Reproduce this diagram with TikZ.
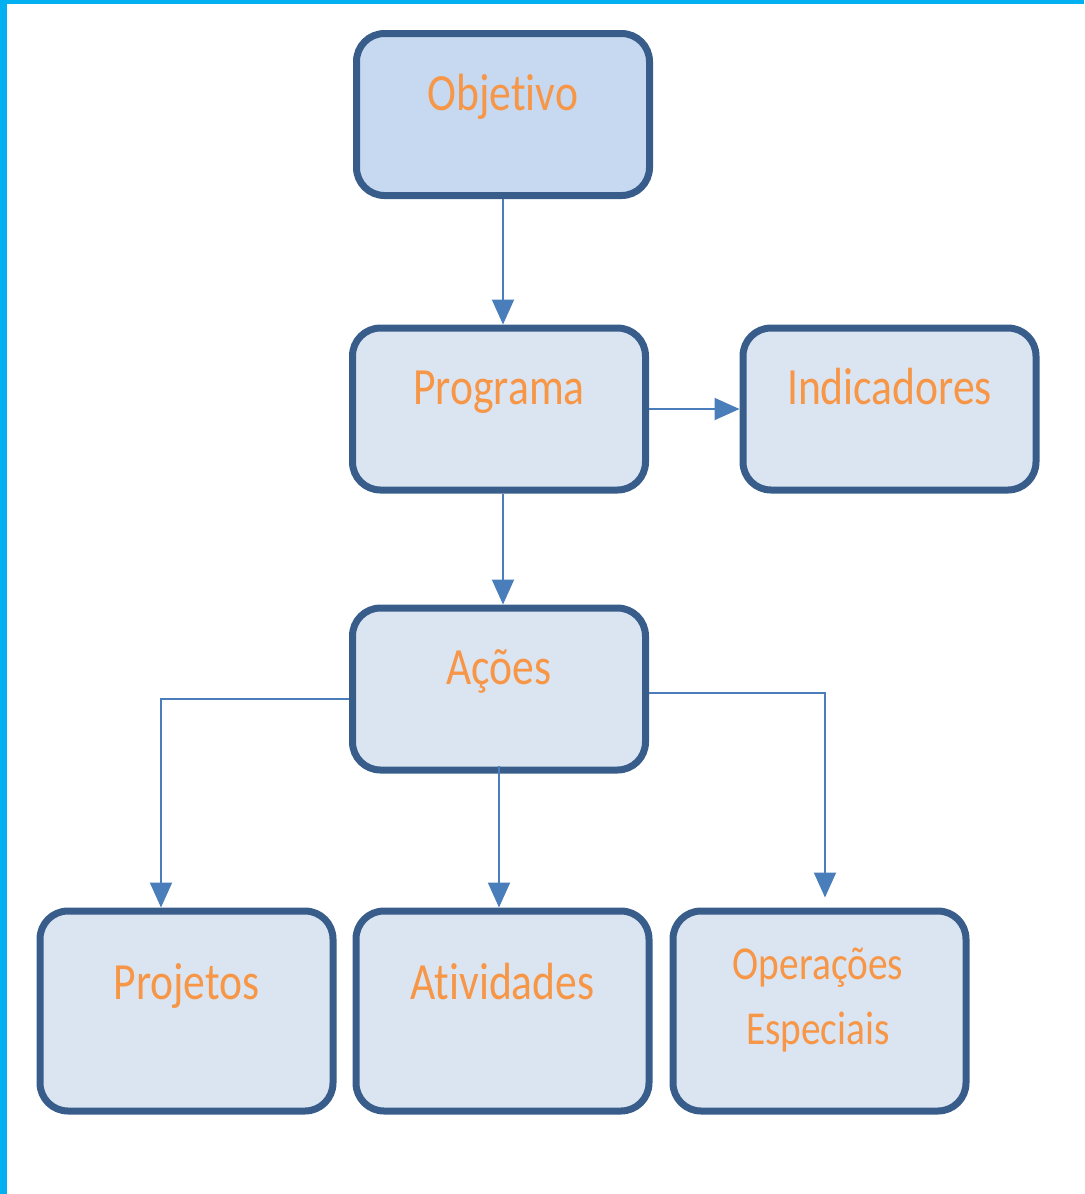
\documentclass[tikz,border=0pt]{standalone}
\usepackage{fontspec}
\setmainfont[Ligatures=NoCommon]{Carlito}
\usepackage{tikz}
\usetikzlibrary{arrows, arrows.meta}
\usepackage{xcolor}
\definecolor{borda}{HTML}{385D8A}
\definecolor{azulclaro}{HTML}{DBE5F1}
\definecolor{azulmedio}{HTML}{C6D9F1}
\definecolor{seta}{HTML}{4A7EBB}
\definecolor{laranja}{HTML}{F79646}
\definecolor{moldura}{HTML}{00B0F0}
\newcommand{\alto}[1]{\scalebox{1}[1.2]{#1}}

\begin{document}
\begin{tikzpicture}[
caixa/.style={draw=borda, line width=0.07cm, fill=azulclaro, rounded corners=0.28cm,
  minimum width=2.93cm, minimum height=1.62cm},
caixabaixa/.style={caixa, minimum height=2.0cm},
rotulo/.style={anchor=base, text=laranja, align=center,
  font=\fontsize{12.4}{18.4}\selectfont},
ligacao/.style={seta, line width=0.02cm, -{Triangle[length=0.25cm,width=0.22cm]}}
]
\useasboundingbox (0,0) rectangle (10.84,-11.94);
\fill[moldura] (0,0) rectangle (0.07,-11.94);
\fill[moldura] (0,0) rectangle (10.84,-0.04);

\node[caixa, fill=azulmedio] (objetivo) at (5.03,-1.145) {};
\node[caixa] (programa) at (4.99,-4.09) {};
\node[caixa] (indicadores) at (8.895,-4.09) {};
\node[caixa] (acoes) at (4.99,-6.89) {};
\node[caixabaixa] (projetos) at (1.865,-10.11) {};
\node[caixabaixa] (atividades) at (5.025,-10.11) {};
\node[caixabaixa] (operacoes) at (8.195,-10.11) {};

\node[rotulo] (objetivo-txt) at ([yshift=-0.80cm]objetivo.north) {\alto{Objetivo}};
\node[rotulo] (programa-txt) at ([yshift=-0.80cm]programa.north) {\alto{Programa}};
\node[rotulo] (indicadores-txt) at ([yshift=-0.80cm]indicadores.north) {\alto{Indicadores}};
\node[rotulo] (acoes-txt) at ([yshift=-0.80cm]acoes.north) {\alto{Ações}};
\node[rotulo] (projetos-txt) at ([yshift=-0.92cm]projetos.north) {\alto{Projetos}};
\node[rotulo] (atividades-txt) at ([yshift=-0.92cm]atividades.north) {\alto{Atividades}};
\node[rotulo, font=\fontsize{11.2}{18.4}\selectfont] (operacoes-txt)
  at ([xshift=-0.015cm,yshift=-1.37cm]operacoes.north)
  {\alto{Operações}\\\alto{Especiais}};

\draw[ligacao] (objetivo.south) -- (objetivo.south |- programa.north);
\draw[ligacao] (programa.east) -- (indicadores.west);
\draw[ligacao] (programa.south -| objetivo.south) -- (objetivo.south |- acoes.north);
\draw[ligacao] ([yshift=0.08cm]acoes.south) -- (acoes.south |- atividades.north);
\draw[ligacao] ([yshift=-0.10cm]acoes.west) -| ([xshift=-0.255cm]projetos.north);
\draw[ligacao] ([yshift=-0.04cm]acoes.east) -| ([xshift=0.055cm,yshift=0.10cm]operacoes.north);
\end{tikzpicture}
\end{document}
